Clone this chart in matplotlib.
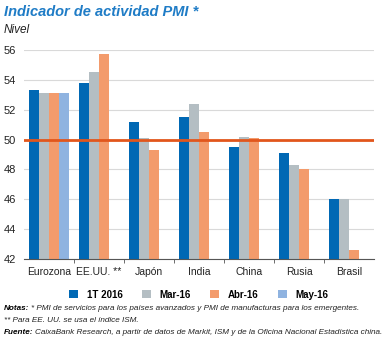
import numpy as np
import matplotlib
matplotlib.use('Agg')
import matplotlib.pyplot as plt

# datos
paises = ['Eurozona', 'EE.UU. **', 'Japón', 'India', 'China', 'Rusia', 'Brasil']
series = ['1T 2016', 'Mar-16', 'Abr-16', 'May-16']
t1_2016 = [53.3, 53.8, 51.2, 51.5, 49.5, 49.1, 46.0]
mar16 = [53.1, 54.5, 50.1, 52.4, 50.2, 48.3, 46.0]
abr16 = [53.1, 55.7, 49.3, 50.5, 50.1, 48.0, 42.6]
may16 = [53.1, np.nan, np.nan, np.nan, np.nan, np.nan, np.nan]
umbral = 50
yticks = [42, 44, 46, 48, 50, 52, 54, 56]

colores = ['#0068b4', '#b4bec3', '#f39b6c', '#8fb3e0']
plt.rcParams['font.family'] = ['Liberation Sans', 'DejaVu Sans']

fig = plt.figure(figsize=(3.91, 3.38), dpi=100)
ax = fig.add_axes([24/391, 1-259/338, 350/391, 209/338])

x = np.arange(len(paises))
w = 0.2
for i, (vals, c) in enumerate(zip([t1_2016, mar16, abr16, may16], colores)):
    ax.bar(x + (i-1.5)*w, np.array(vals)-42, w, bottom=42, color=c, label=series[i], zorder=2)

ax.axhline(umbral, color='#e2561c', lw=2, zorder=3)
ax.set_xlim(-0.5, 6.5)
ax.set_ylim(42, 56)
ax.set_yticks(yticks)
ax.grid(axis='y', color='#d9d9d9', lw=0.8, zorder=0)
for s in ['top', 'right', 'left']:
    ax.spines[s].set_visible(False)
ax.spines['bottom'].set_color('#555555')
ax.spines['bottom'].set_linewidth(0.8)
ax.tick_params(axis='y', length=0, labelsize=8, pad=6, colors='#222222')
ax.set_xticks(x)
ax.set_xticklabels(paises, fontsize=7.5)
ax.tick_params(axis='x', length=0, pad=6, colors='#222222')
ax.set_xticks(x[:-1] + 0.5, minor=True)
ax.tick_params(axis='x', which='minor', length=3, direction='out', color='#555555')

ax.legend(loc='upper center', bbox_to_anchor=(0.5, -0.105), ncol=4, frameon=False,
          handlelength=0.9, handleheight=0.9, columnspacing=2.0,
          handletextpad=0.9, prop={'weight': 'bold', 'size': 7})

fig.text(4/391, 1-12/338, 'Indicador de actividad PMI *', fontsize=10.5, fontweight='bold',
         style='italic', color='#1f7cc6', va='center')
fig.text(4/391, 1-30/338, 'Nivel', fontsize=8.5, style='italic', va='center', color='#222222')

# notas
notas = [
    (308, 'Notas:', '* PMI de servicios para los países avanzados y PMI de manufacturas para los emergentes.'),
    (320, '', '** Para EE. UU. se usa el índice ISM.'),
    (332, 'Fuente:', 'CaixaBank Research, a partir de datos de Markit, ISM y de la Oficina Nacional Estadística china.'),
]
fig.canvas.draw()
r = fig.canvas.get_renderer()

# ajustar tamaño para que la línea más larga quepa en ~383 px
prueba = fig.text(0, 0, notas[2][1] + ' ' + notas[2][2], fontsize=10, style='italic')
ancho = prueba.get_window_extent(r).width
prueba.remove()
fs = 10 * 381 / ancho

def linea(y, negrita, resto):
    x0 = 4/391
    if negrita:
        t = fig.text(x0, 1-y/338, negrita, fontsize=fs, fontweight='bold', style='italic', va='center')
        bb = t.get_window_extent(r)
        x0 = (bb.x1 + 1.5)/fig.bbox.width
    fig.text(x0, 1-y/338, resto, fontsize=fs, style='italic', va='center', color='#222222')

for y, neg, resto in notas:
    linea(y, neg, resto)

fig.savefig('out.png', dpi=100)
